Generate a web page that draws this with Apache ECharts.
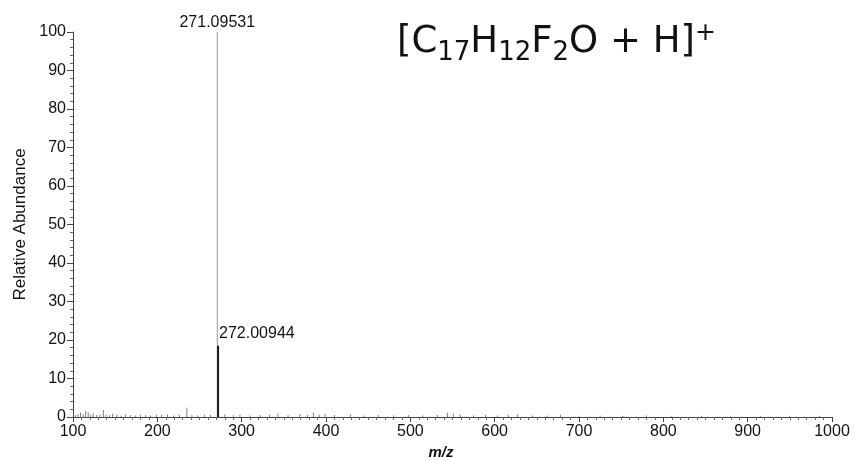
<!DOCTYPE html>
<html>
<head>
<meta charset="utf-8">
<title>Mass spectrum</title>
<script src="https://cdn.jsdelivr.net/npm/echarts@6/dist/echarts.min.js"></script>
</head>
<body style="margin:0">
<div id="main" style="width:855px;height:461px"></div>
<script>
// main peaks
var peakMz = [271.09531, 272.00944];
var peakAbund = [100, 18.5];
var peakLabels = ['271.09531', '272.00944'];

// small noise sticks
var noiseMz = [103, 106, 109, 112, 115, 118, 121, 124, 128, 132, 136, 139, 143, 147, 152, 157, 162, 168, 174, 180,
               186, 192, 199, 205, 212, 219, 226, 235, 241, 248, 256, 263, 280, 290, 298, 310, 322, 333, 343, 355,
               369, 378, 385, 392, 399, 410, 429, 445, 462, 480, 498, 515, 532, 544, 551, 559, 575, 589, 603, 616,
               627, 645, 662, 678, 700, 725, 752, 780, 810, 845, 880, 915, 950, 985];
var noiseAbund = [0.5, 0.8, 1.2, 0.7, 1.6, 1.3, 0.6, 0.9, 0.5, 0.7, 1.8, 0.6, 0.5, 0.9, 0.6, 0.4, 0.7, 0.5, 0.4, 0.6,
                  0.5, 0.4, 0.6, 0.5, 0.7, 0.4, 0.6, 2.4, 0.5, 0.4, 0.6, 0.5, 0.7, 0.5, 0.6, 0.4, 0.5, 0.6, 0.9, 0.5,
                  0.8, 0.5, 1.2, 0.6, 0.8, 0.5, 0.7, 0.4, 0.5, 0.4, 0.5, 0.4, 0.5, 1.1, 0.9, 0.7, 0.4, 0.6, 0.4, 0.6,
                  0.7, 0.4, 0.4, 0.6, 0.3, 0.4, 0.3, 0.4, 0.3, 0.3, 0.3, 0.3, 0.3, 0.3];

var xMin = 100, xMax = 1000, xStep = 100;
var yMin = 0, yMax = 100, yStep = 10;

var font = '"Liberation Sans", Arial, sans-serif';

var myChart = echarts.init(document.getElementById('main'));

function stickItem(params, api) {
    var base = api.coord([api.value(0), 0]);
    var top = api.coord([api.value(0), api.value(1)]);
    return {
        type: 'line',
        shape: {x1: base[0], y1: base[1], x2: top[0], y2: top[1]},
        style: {stroke: '#808080', lineWidth: 1}
    };
}

function peakItem(params, api) {
    var i = params.dataIndex;
    var base = api.coord([api.value(0), 0]);
    var top = api.coord([api.value(0), api.value(1)]);
    var first = i === 0;
    return {
        type: 'group',
        children: [{
            type: 'line',
            shape: {x1: base[0], y1: base[1], x2: top[0], y2: top[1]},
            style: {stroke: first ? '#999999' : '#1a1a1a', lineWidth: first ? 1 : 2}
        }, {
            type: 'text',
            x: first ? top[0] : top[0] + 1,
            y: first ? top[1] - 1 : top[1] - 4,
            style: {
                text: peakLabels[i],
                fill: '#111',
                font: '16px ' + font,
                align: first ? 'center' : 'left',
                verticalAlign: 'bottom'
            }
        }]
    };
}

var option = {
    backgroundColor: '#fff',
    animation: false,
    title: {
        left: 397,
        top: 17,
        padding: 0,
        text: '{a|[C}{s|17}{a|H}{s|12}{a|F}{s|2}{a|O + H]}{p|+}',
        textStyle: {
            fontWeight: 'normal',
            rich: {
                a: {fontFamily: 'DejaVu Sans', fontWeight: 'normal', fontSize: 37, lineHeight: 50, color: '#111'},
                s: {fontFamily: 'DejaVu Sans', fontWeight: 'normal', fontSize: 26, color: '#111', padding: [22, 0, 0, 0]},
                p: {fontFamily: 'DejaVu Sans', fontWeight: 'normal', fontSize: 25, color: '#111', padding: [0, 0, 17, 0]}
            }
        }
    },
    grid: {left: 73, right: 23, top: 32, bottom: 44, outerBoundsMode: 'none', containLabel: false},
    xAxis: {
        type: 'value',
        min: xMin,
        max: xMax,
        interval: xStep,
        name: 'm/z',
        nameLocation: 'middle',
        nameGap: 27,
        nameTextStyle: {fontFamily: font, fontSize: 15, fontWeight: 'bold', fontStyle: 'italic', color: '#111', padding: [0, 23, 0, 0]},
        axisLine: {lineStyle: {color: '#444', width: 1}},
        axisTick: {length: 5, lineStyle: {color: '#444'}},
        minorTick: {show: true, splitNumber: 10, length: 3, lineStyle: {color: '#666'}},
        axisLabel: {fontFamily: font, fontSize: 16, color: '#111', margin: 7, formatter: function (v) { return String(v); }},
        splitLine: {show: false}
    },
    yAxis: {
        type: 'value',
        min: yMin,
        max: yMax,
        interval: yStep,
        name: 'Relative Abundance',
        nameLocation: 'middle',
        nameGap: 44,
        nameTextStyle: {fontFamily: font, fontSize: 17, color: '#111'},
        axisLine: {show: true, lineStyle: {color: '#444', width: 1}},
        axisTick: {show: true, length: 6, lineStyle: {color: '#444'}},
        minorTick: {show: true, splitNumber: 5, length: 3, lineStyle: {color: '#666'}},
        axisLabel: {fontFamily: font, fontSize: 16, color: '#111', margin: 7},
        splitLine: {show: false}
    },
    series: [{
        name: 'noise',
        type: 'custom',
        renderItem: stickItem,
        data: noiseMz.map(function (m, i) { return [m, noiseAbund[i]]; }),
        silent: true
    }, {
        name: 'peaks',
        type: 'custom',
        renderItem: peakItem,
        data: peakMz.map(function (m, i) { return [m, peakAbund[i]]; }),
        silent: true
    }]
};
myChart.setOption(option);
</script>
</body>
</html>
